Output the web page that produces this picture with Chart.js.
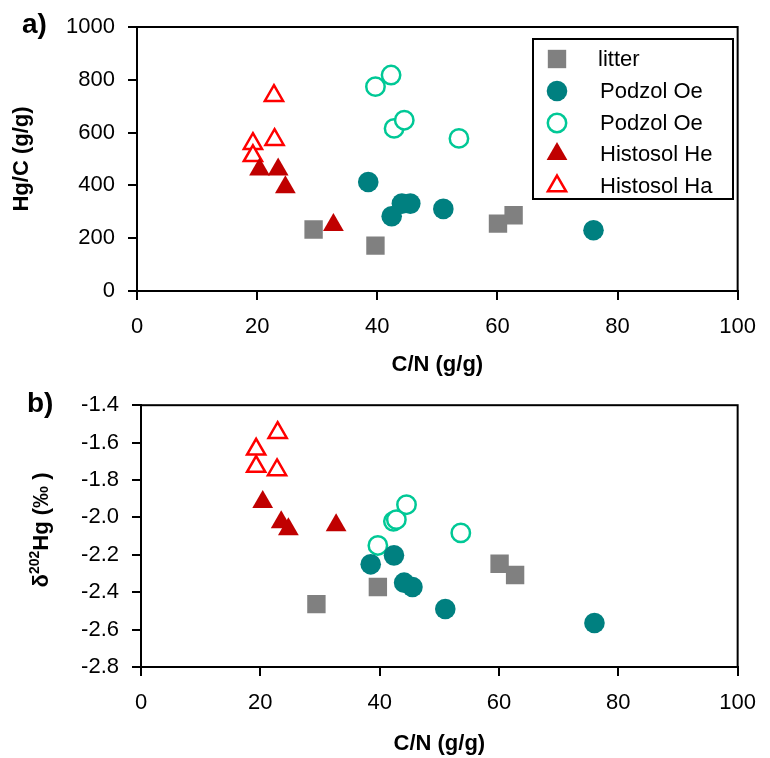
<!DOCTYPE html>
<html>
<head>
<meta charset="utf-8">
<script src="https://cdn.jsdelivr.net/npm/chart.js@4.4.0/dist/chart.umd.min.js"></script>
<style>
    html, body { margin: 0; padding: 0; background: #fff; }
    #wrap { position: relative; width: 770px; height: 758px; }
    .panel { position: absolute; left: 0; width: 770px; height: 379px; }
</style>
</head>
<body>
<div id="wrap">
    <div class="panel" style="top:0"><canvas id="chartA" width="770" height="379"></canvas></div>
    <div class="panel" style="top:379px"><canvas id="chartB" width="770" height="379"></canvas></div>
</div>
<script>
// C/N (g/g) per group
const litterCN = [29.4, 39.7, 60.1, 62.7];
const podzolFilledCN = [38.5, 42.4, 44.1, 45.5, 51.0, 76.0];
const podzolOpenCN = [39.7, 42.3, 42.8, 44.5, 53.6];
const histoHeCN = [20.4, 23.5, 24.7, 32.7];
const histoHaCN = [22.8, 22.9, 19.3, 19.3];

// panel a) Hg/C (g/g)
const litterHgC = [233, 172, 255, 287];
const podzolFilledHgC = [413, 283, 331, 331, 311, 230];
const podzolOpenHgC = [774, 818, 616, 647, 578];
const histoHeHgC = [460, 460, 393, 250];
const histoHaHgC = [740, 573, 558, 512];

// panel b) d202Hg (permil)
const litterD202 = [-2.464, -2.372, -2.248, -2.308];
const podzolFilledD202 = [-2.251, -2.203, -2.349, -2.372, -2.490, -2.565];
const podzolOpenD202 = [-2.150, -2.021, -2.012, -1.932, -2.083];
const histoHeD202 = [-1.918, -2.026, -2.063, -2.042];
const histoHaD202 = [-1.746, -1.547, -1.636, -1.728];

const seriesLabels = ['litter', 'Podzol Oe', 'Podzol Oe', 'Histosol He', 'Histosol Ha'];
const xTicks = [0, 20, 40, 60, 80, 100];
const yTicksA = [0, 200, 400, 600, 800, 1000];
const yTicksB = [-2.8, -2.6, -2.4, -2.2, -2.0, -1.8, -1.6, -1.4];

const FONT = "'Liberation Sans', Arial, sans-serif";

const styles = [
    { pointStyle: 'rect', pointRadius: 13, backgroundColor: '#808080', borderColor: '#808080', borderWidth: 0 },
    { pointStyle: 'circle', pointRadius: 10.3, backgroundColor: '#008080', borderColor: '#008080', borderWidth: 0 },
    { pointStyle: 'circle', pointRadius: 9.2, backgroundColor: '#ffffff', borderColor: '#00C896', borderWidth: 2.5 },
    { pointStyle: 'triangle', pointRadius: 12, backgroundColor: '#C00000', borderColor: '#C00000', borderWidth: 0 },
    { pointStyle: 'triangle', pointRadius: 10.5, backgroundColor: '#ffffff', borderColor: '#FF0000', borderWidth: 2.5 }
];

const cnGroups = [litterCN, podzolFilledCN, podzolOpenCN, histoHeCN, histoHaCN];

function buildDatasets(yGroups) {
    return yGroups.map((ys, i) => ({
        label: seriesLabels[i],
        data: ys.map((y, j) => ({ x: cnGroups[i][j], y: y })),
        pointStyle: styles[i].pointStyle,
        pointRadius: styles[i].pointRadius,
        pointHoverRadius: styles[i].pointRadius,
        backgroundColor: styles[i].backgroundColor,
        borderColor: styles[i].borderColor,
        pointBorderWidth: styles[i].borderWidth,
        borderWidth: styles[i].borderWidth
    }));
}

function drawMarker(ctx, st, x, y) {
    ctx.save();
    ctx.fillStyle = st.backgroundColor;
    ctx.strokeStyle = st.borderColor;
    ctx.lineWidth = st.borderWidth;
    Chart.helpers.drawPoint(ctx, { pointStyle: st.pointStyle, radius: st.pointRadius, borderWidth: st.borderWidth, rotation: 0 }, x, y);
    ctx.restore();
}

const framePlugin = {
    id: 'frame',
    afterDraw(chart) {
        const a = chart.chartArea, ctx = chart.ctx;
        ctx.save();
        ctx.strokeStyle = '#000';
        ctx.lineWidth = 2;
        ctx.strokeRect(a.left, a.top, a.right - a.left, a.bottom - a.top);
        ctx.restore();
    }
};

const panelLabelPlugin = {
    id: 'panelLabel',
    afterDraw(chart, args, opts) {
        const ctx = chart.ctx;
        ctx.save();
        ctx.fillStyle = '#000';
        ctx.font = 'bold 28px ' + FONT;
        ctx.textBaseline = 'alphabetic';
        ctx.fillText(opts.text, opts.x, opts.y);
        ctx.restore();
    }
};

const legendBoxPlugin = {
    id: 'legendBox',
    afterDraw(chart, args, opts) {
        if (!opts.show) return;
        const ctx = chart.ctx;
        ctx.save();
        ctx.fillStyle = '#fff';
        ctx.fillRect(533, 39, 200, 160);
        ctx.strokeStyle = '#000';
        ctx.lineWidth = 2;
        ctx.strokeRect(533, 39, 200, 160);
        const rowY = [59, 91, 123, 154, 186];
        chart.data.datasets.forEach((ds, i) => {
            drawMarker(ctx, styles[i], 557, rowY[i]);
            ctx.fillStyle = '#000';
            ctx.font = '22px ' + FONT;
            ctx.textBaseline = 'middle';
            ctx.fillText(ds.label, i === 0 ? 598 : 600, rowY[i] + 1);
        });
        ctx.restore();
    }
};

const deltaTitlePlugin = {
    id: 'deltaTitle',
    afterDraw(chart, args, opts) {
        if (!opts.show) return;
        const ctx = chart.ctx;
        ctx.save();
        ctx.fillStyle = '#000';
        const big = 'bold 22px ' + FONT, small = 'bold 14px ' + FONT;
        ctx.font = big;
        const w1 = ctx.measureText('δ').width;
        const w3 = ctx.measureText('Hg (‰ )').width;
        ctx.font = small;
        const w2 = ctx.measureText('202').width;
        const total = w1 + w2 + w3;
        ctx.translate(opts.x, opts.y);
        ctx.rotate(-Math.PI / 2);
        ctx.textBaseline = 'alphabetic';
        let pos = -total / 2;
        ctx.font = big;
        ctx.fillText('δ', pos, 0);
        pos += w1;
        ctx.font = small;
        ctx.fillText('202', pos, -9);
        pos += w2;
        ctx.font = big;
        ctx.fillText('Hg (‰ )', pos, 0);
        ctx.restore();
    }
};

function makeOptions(cfg) {
    return {
        responsive: false,
        animation: false,
        events: [],
        layout: { padding: { left: 0, top: cfg.top, right: cfg.right, bottom: 0 } },
        plugins: {
            legend: { display: false },
            tooltip: { enabled: false },
            panelLabel: cfg.panel,
            legendBox: { show: cfg.legend },
            deltaTitle: cfg.delta
        },
        scales: {
            x: {
                type: 'linear',
                min: 0, max: 100,
                afterBuildTicks: s => { s.ticks = xTicks.map(v => ({ value: v })); },
                afterFit: s => { s.height = cfg.xHeight; },
                grid: { drawOnChartArea: false, drawTicks: true, tickLength: 9, color: '#000', lineWidth: 2 },
                border: { display: true, color: '#000', width: 2 },
                ticks: { color: '#000', font: { family: FONT, size: 22 }, padding: 14, maxRotation: 0 },
                title: { display: true, text: 'C/N (g/g)', color: '#000', font: { family: FONT, size: 22, weight: 'bold' }, padding: { top: 4, bottom: cfg.xTitlePad } }
            },
            y: {
                type: 'linear',
                min: cfg.yMin, max: cfg.yMax,
                afterBuildTicks: s => { s.ticks = cfg.yTicks.map(v => ({ value: v })); },
                afterFit: s => { s.width = cfg.yWidth; },
                grid: { drawOnChartArea: false, drawTicks: true, tickLength: 9, color: '#000', lineWidth: 2 },
                border: { display: true, color: '#000', width: 2 },
                ticks: { color: '#000', font: { family: FONT, size: 22 }, padding: 13, callback: cfg.yFormat },
                title: cfg.yTitle
            }
        }
    };
}

new Chart(document.getElementById('chartA'), {
    type: 'scatter',
    data: { datasets: buildDatasets([litterHgC, podzolFilledHgC, podzolOpenHgC, histoHeHgC, histoHaHgC]) },
    options: makeOptions({
        top: 27, right: 28, xHeight: 88, yWidth: 137, xTitlePad: 1,
        yMin: 0, yMax: 1000, yTicks: yTicksA,
        yFormat: v => String(v),
        yTitle: { display: true, text: 'Hg/C (g/g)', color: '#000', font: { family: FONT, size: 22, weight: 'bold' }, padding: { top: 9, bottom: 0 } },
        panel: { text: 'a)', x: 22, y: 33 },
        legend: true,
        delta: { show: false }
    }),
    plugins: [framePlugin, panelLabelPlugin, legendBoxPlugin, deltaTitlePlugin]
});

new Chart(document.getElementById('chartB'), {
    type: 'scatter',
    data: { datasets: buildDatasets([litterD202, podzolFilledD202, podzolOpenD202, histoHeD202, histoHaD202]) },
    options: makeOptions({
        top: 24, right: 24, xHeight: 91, yWidth: 141, xTitlePad: 1,
        yMin: -2.8, yMax: -1.4, yTicks: yTicksB,
        yFormat: v => v.toFixed(1),
        yTitle: { display: false },
        panel: { text: 'b)', x: 27, y: 33 },
        legend: false,
        delta: { show: true, x: 48, y: 151 }
    }),
    plugins: [framePlugin, panelLabelPlugin, legendBoxPlugin, deltaTitlePlugin]
});
</script>
</body>
</html>
